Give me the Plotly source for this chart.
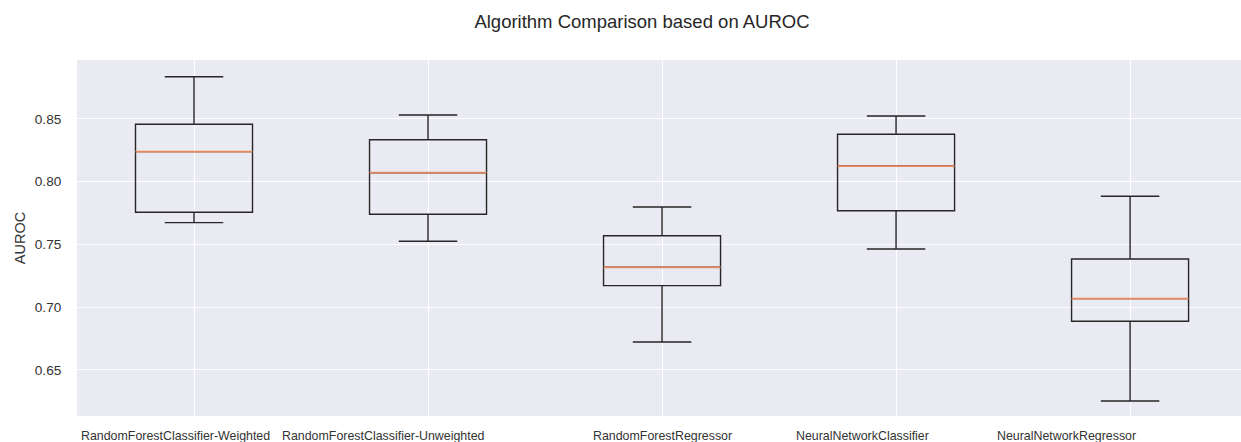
import plotly.graph_objects as go

# Data
algorithms = [
    "RandomForestClassifier-Weighted",
    "RandomForestClassifier-Unweighted",
    "RandomForestRegressor",
    "NeuralNetworkClassifier",
    "NeuralNetworkRegressor",
]
lower_whisker = [0.7674, 0.7526, 0.6723, 0.7464, 0.6253]
q1_values = [0.7757, 0.7741, 0.7172, 0.7769, 0.6888]
median_values = [0.8240, 0.8072, 0.7318, 0.8125, 0.7068]
q3_values = [0.8458, 0.8335, 0.7570, 0.8378, 0.7384]
upper_whisker = [0.8837, 0.8532, 0.7799, 0.8524, 0.7884]
y_tick_values = [0.65, 0.70, 0.75, 0.80, 0.85]
y_tick_labels = ["0.65", "0.70", "0.75", "0.80", "0.85"]

# Layout constants (label offsets in category units, as in the reference)
label_offsets = [-0.077, -0.192, 0.0, -0.145, -0.27]
BOX_WIDTH = 0.5
FONT = "Liberation Sans, Arial, sans-serif"
TEXT_COLOR = "#333333"

fig = go.Figure()
positions = list(range(len(algorithms)))

for i, name in enumerate(algorithms):
    fig.add_trace(go.Box(
        x=[positions[i]],
        q1=[q1_values[i]],
        median=[median_values[i]],
        q3=[q3_values[i]],
        lowerfence=[lower_whisker[i]],
        upperfence=[upper_whisker[i]],
        name=name,
        width=BOX_WIDTH,
        whiskerwidth=0.5,
        fillcolor="rgba(0,0,0,0)",
        line=dict(color="#262626", width=1.4),
        boxpoints=False,
        showlegend=False,
        hoverinfo="skip",
    ))
    # orange median line drawn over the box's own median
    fig.add_shape(
        type="line", xref="x", yref="y", layer="above",
        x0=positions[i] - BOX_WIDTH / 2, x1=positions[i] + BOX_WIDTH / 2,
        y0=median_values[i], y1=median_values[i],
        line=dict(color="#E8895C", width=1.8),
    )

for i, name in enumerate(algorithms):
    fig.add_annotation(
        x=positions[i] + label_offsets[i], xref="x",
        y=0, yref="paper", yanchor="top", yshift=-11,
        text=name, showarrow=False,
        font=dict(family=FONT, size=12.4, color=TEXT_COLOR),
    )

fig.update_layout(
    width=1241, height=442,
    margin=dict(l=77, r=0, t=60, b=26),
    paper_bgcolor="white",
    plot_bgcolor="#EAEAF2",
    title=dict(
        text="Algorithm Comparison based on AUROC",
        x=642 / 1241, xanchor="center", xref="container",
        y=1 - 22 / 442, yanchor="middle", yref="container",
        font=dict(family=FONT, size=18.5, color="#262626"),
    ),
    xaxis=dict(
        range=[-0.5, 4.474],
        tickvals=positions,
        showticklabels=False,
        showgrid=True, gridcolor="white", gridwidth=1.2,
        zeroline=False, showline=False, ticks="",
    ),
    yaxis=dict(
        range=[0.6133, 0.897],
        tickvals=y_tick_values,
        ticktext=y_tick_labels,
        showgrid=True, gridcolor="white", gridwidth=1.2,
        zeroline=False, showline=False,
        ticks="outside", ticklen=12, tickcolor="rgba(0,0,0,0)",
        tickfont=dict(family=FONT, size=13.6, color=TEXT_COLOR),
        title=dict(text="AUROC", standoff=5,
                   font=dict(family=FONT, size=14.5, color=TEXT_COLOR)),
    ),
)

fig.write_html("out.html")
